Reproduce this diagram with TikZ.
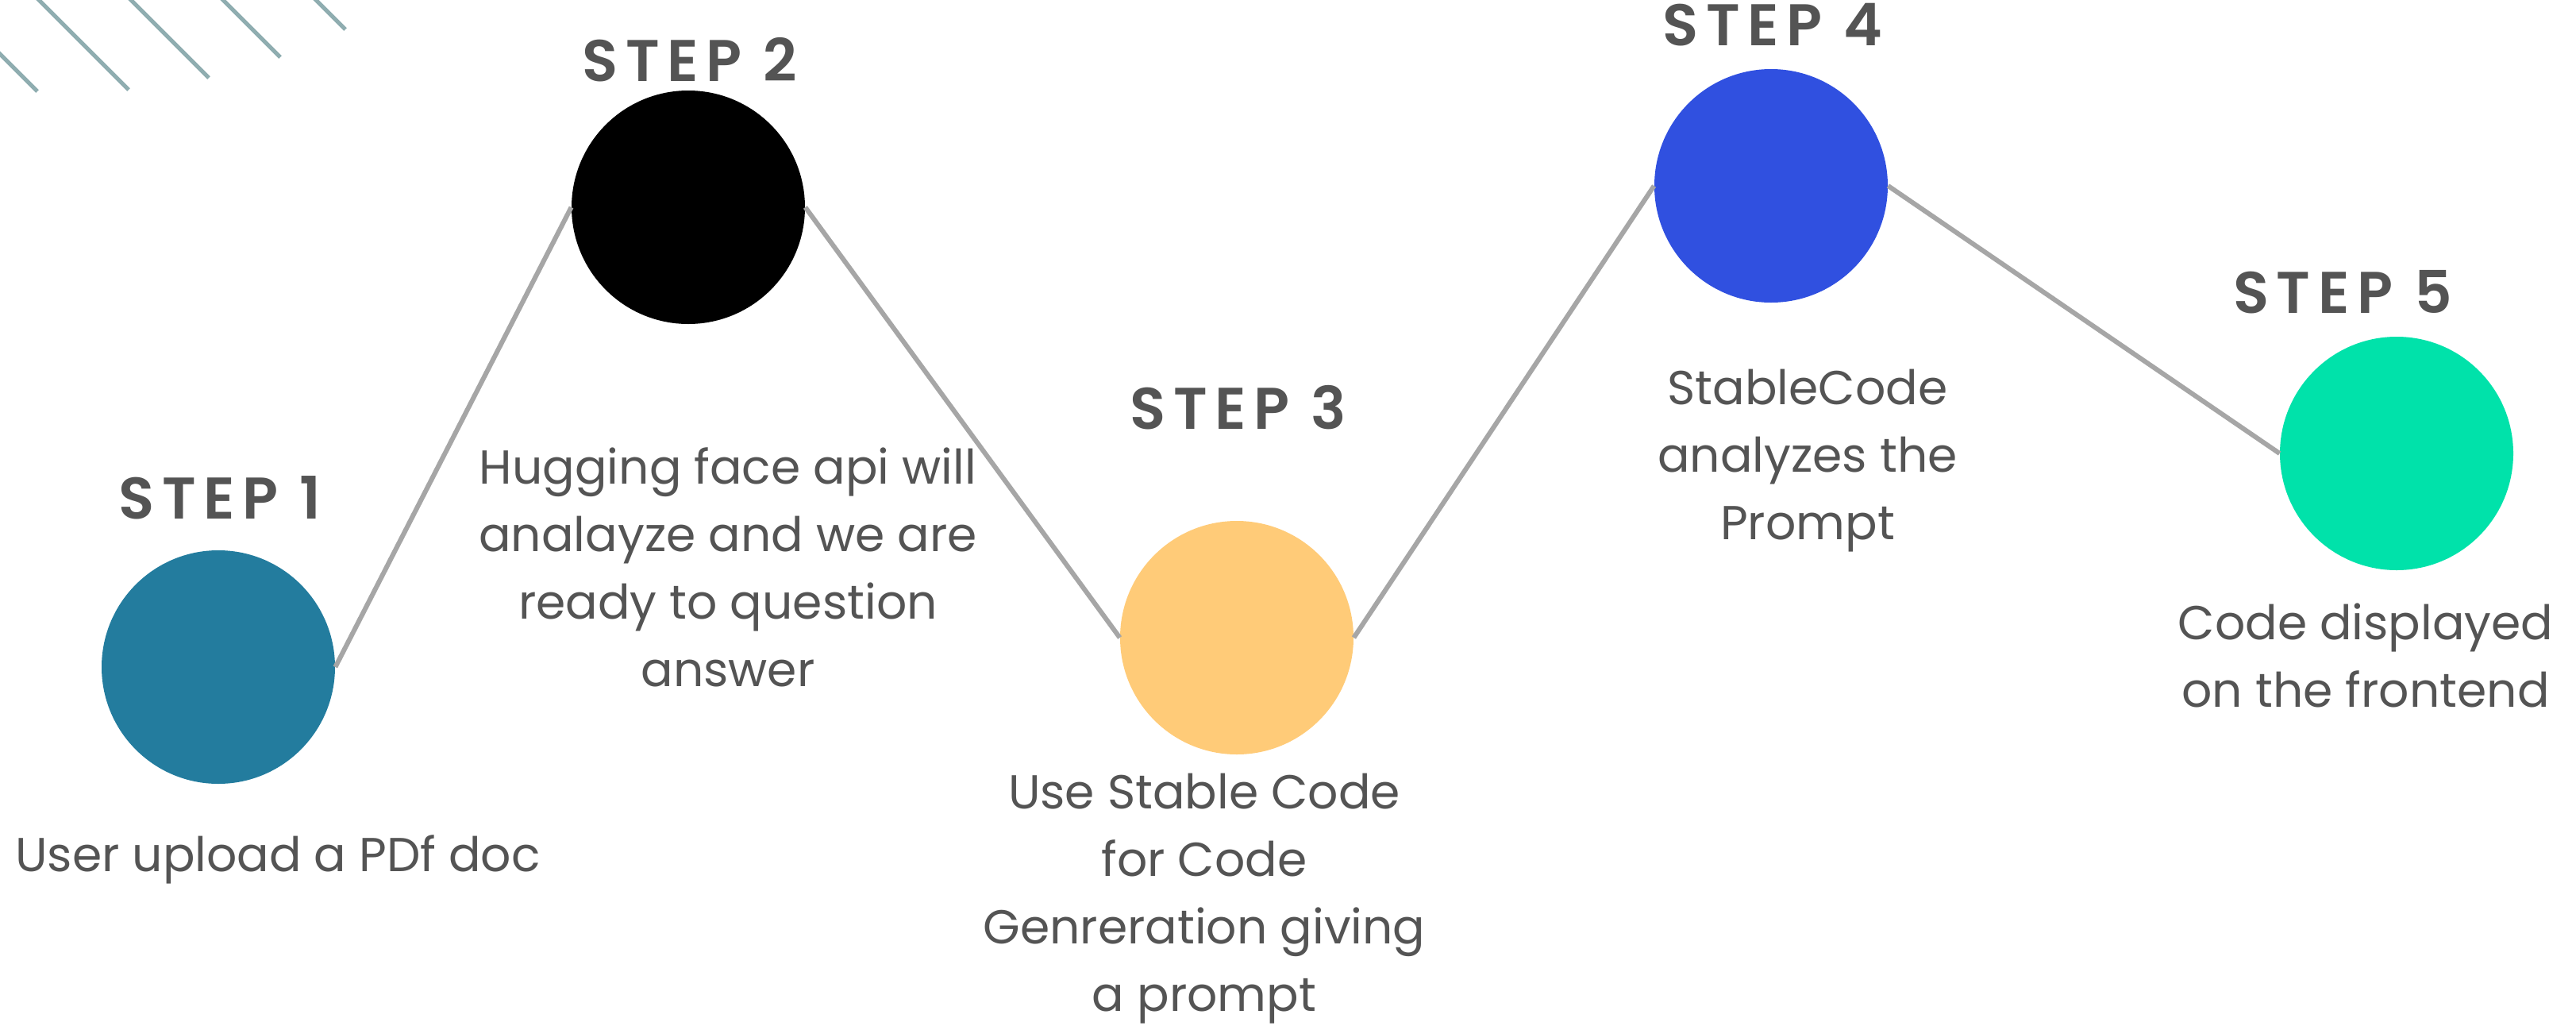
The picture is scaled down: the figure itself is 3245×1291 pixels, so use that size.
\documentclass[tikz,border=0pt]{standalone}
\usepackage{fontspec}
\setmainfont{Poppins}
\newfontfamily\stepfont[LetterSpace=13,BoldFont={Poppins SemiBold}]{Poppins}
\definecolor{stepone}{HTML}{237C9E}
\definecolor{stepthree}{HTML}{FFCB78}
\definecolor{stepfour}{HTML}{3050E0}
\definecolor{stepfive}{HTML}{00E2AA}
\definecolor{linkgray}{HTML}{A6A6A6}
\definecolor{textgray}{HTML}{545454}
\definecolor{decogray}{HTML}{8FADB0}

\begin{document}
\begin{tikzpicture}[x=0.5pt,y=-0.5pt,
	step_node/.style={circle,minimum size=147pt,inner sep=0pt},
	step_title/.style={text=textgray,font=\stepfont\bfseries\fontsize{37}{40}\selectfont},
	step_text/.style={text=textgray,align=center,font=\fontsize{30}{42.5}\selectfont},
	link/.style={draw=linkgray,line width=3pt},
	deco/.style={draw=decogray,line width=2.5pt}]

		\useasboundingbox (0,0) rectangle (3245,1291);

		% corner stripes
		\draw[deco] (-20,48) -- (47,115);
		\draw[deco] (39,-10) -- (162,113);
		\draw[deco] (155,-10) -- (263,98);
		\draw[deco] (271,-10) -- (353,72);
		\draw[deco] (388,-10) -- (435,37);

		\node[step_node,fill=stepone] (1) at (275,840) {};
		\node[step_node,fill=black] (2) at (867,261) {};
		\node[step_node,fill=stepthree] (3) at (1558,803) {};
		\node[step_node,fill=stepfour] (4) at (2231,234) {};
		\node[step_node,fill=stepfive] (5) at (3019,571) {};

		\node[step_title] (t1) at (277,627) {STEP 1};
		\node[step_title] (t2) at (869,75) {STEP 2};
		\node[step_title] (t3) at (1560,513) {STEP 3};
		\node[step_title] (t4) at (2233,31) {STEP 4};
		\node[step_title] (t5) at (2951,368) {STEP 5};

		\node[step_text] (d1) at (350,1082) {User upload a PDf doc};
		\node[step_text] (d2) at (917,714) {Hugging face api will\\analayze and we are\\ready to question\\answer};
		\node[step_text] (d3) at (1517,1132) {Use Stable Code\\for Code\\Genreration giving\\a prompt};
		\node[step_text] (d4) at (2277,580) {StableCode\\analyzes the\\Prompt};
		\node[step_text] (d5) at (2980,825) {Code displayed\\on the frontend};

		\draw[link] (1.east) -- (2.west);
		\draw[link] (2.east) -- (3.west);
		\draw[link] (3.east) -- (4.west);
		\draw[link] (4.east) -- (5.west);
		\end{tikzpicture}
\end{document}
